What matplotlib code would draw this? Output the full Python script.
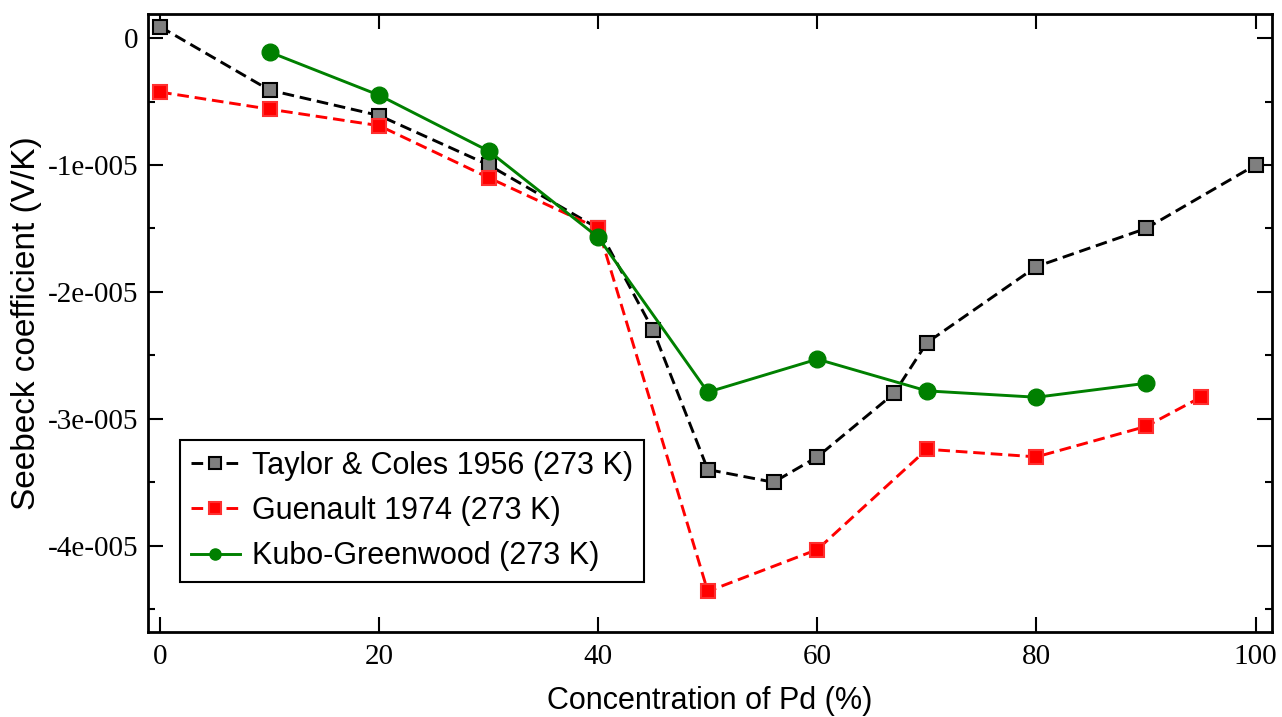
import matplotlib
matplotlib.use('Agg')
import matplotlib.pyplot as plt
from matplotlib.ticker import FixedLocator, MultipleLocator, FuncFormatter

# data (Seebeck coefficient in V/K)
x_taylor = [0, 10, 20, 30, 40, 45, 50, 56, 60, 67, 70, 80, 90, 100]
y_taylor = [0.9e-6, -4.1e-6, -6.1e-6, -1.0e-5, -1.5e-5, -2.3e-5, -3.4e-5,
            -3.5e-5, -3.3e-5, -2.8e-5, -2.4e-5, -1.8e-5, -1.5e-5, -1.0e-5]

x_guen = [0, 10, 20, 30, 40, 50, 60, 70, 80, 90, 95]
y_guen = [-4.25e-6, -5.6e-6, -6.9e-6, -1.1e-5, -1.5e-5, -4.36e-5, -4.03e-5,
          -3.24e-5, -3.3e-5, -3.06e-5, -2.83e-5]

x_kubo = [10, 20, 30, 40, 50, 60, 70, 80, 90]
y_kubo = [-1.1e-6, -4.5e-6, -8.9e-6, -1.57e-5, -2.79e-5, -2.53e-5, -2.78e-5,
          -2.83e-5, -2.72e-5]

ytick_vals = [0, -1e-5, -2e-5, -3e-5, -4e-5]
ytick_labels = ['0', '-1e-005', '-2e-005', '-3e-005', '-4e-005']

fig = plt.figure(figsize=(12.82, 7.17), dpi=100)
ax = fig.add_axes([148/1282, (717-632)/717, 1124/1282, 618/717])

ax.plot(x_taylor, y_taylor, color='black', ls=(0, (4, 2)), lw=2.1,
        marker='s', ms=10, mfc='#7f7f7f', mec='black', mew=1.5,
        label='Taylor & Coles 1956 (273 K)')
ax.plot(x_guen, y_guen, color='red', ls=(0, (4, 2)), lw=2.1,
        marker='s', ms=10, mfc='red', mec='#ff3030', mew=1.5,
        label='Guenault 1974 (273 K)')
ax.plot(x_kubo, y_kubo, color='green', ls='-', lw=2.1,
        marker='o', ms=12, mfc='green', mec='green',
        label='Kubo-Greenwood (273 K)')

ax.set_xlim(-1.1, 101.5)
ax.set_ylim(-4.68e-5, 1.9e-6)

ax.xaxis.set_major_locator(MultipleLocator(20))
ax.yaxis.set_major_locator(FixedLocator(ytick_vals))
ax.yaxis.set_minor_locator(MultipleLocator(5e-6))
ax.yaxis.set_major_formatter(FuncFormatter(
    lambda v, p: ytick_labels[ytick_vals.index(v)] if v in ytick_vals else ''))

ax.tick_params(which='both', direction='in', top=True, right=True, width=1.5,
               labelsize=21)
ax.tick_params(which='major', length=11)
ax.tick_params(which='minor', length=5)
ax.tick_params(axis='x', pad=9)
ax.tick_params(axis='y', pad=7)
for lab in ax.get_xticklabels() + ax.get_yticklabels():
    lab.set_family('Liberation Serif')
for s in ax.spines.values():
    s.set_linewidth(2)

ax.set_xlabel('Concentration of Pd (%)', fontsize=22, family='Liberation Sans', labelpad=11)
ax.set_ylabel('Seebeck coefficient (V/K)', fontsize=24, family='Liberation Sans', labelpad=4)

leg = ax.legend(loc='lower left', bbox_to_anchor=(0.0285, 0.081), fancybox=False,
                edgecolor='black', framealpha=1, borderpad=0.35, labelspacing=0.5,
                handlelength=1.6, handletextpad=0.4, borderaxespad=0,
                prop={'family': 'Liberation Sans', 'size': 22})
leg.get_frame().set_linewidth(1.5)
for h in leg.legend_handles:
    h.set_markersize(8)

fig.savefig('out.png', dpi=100)
